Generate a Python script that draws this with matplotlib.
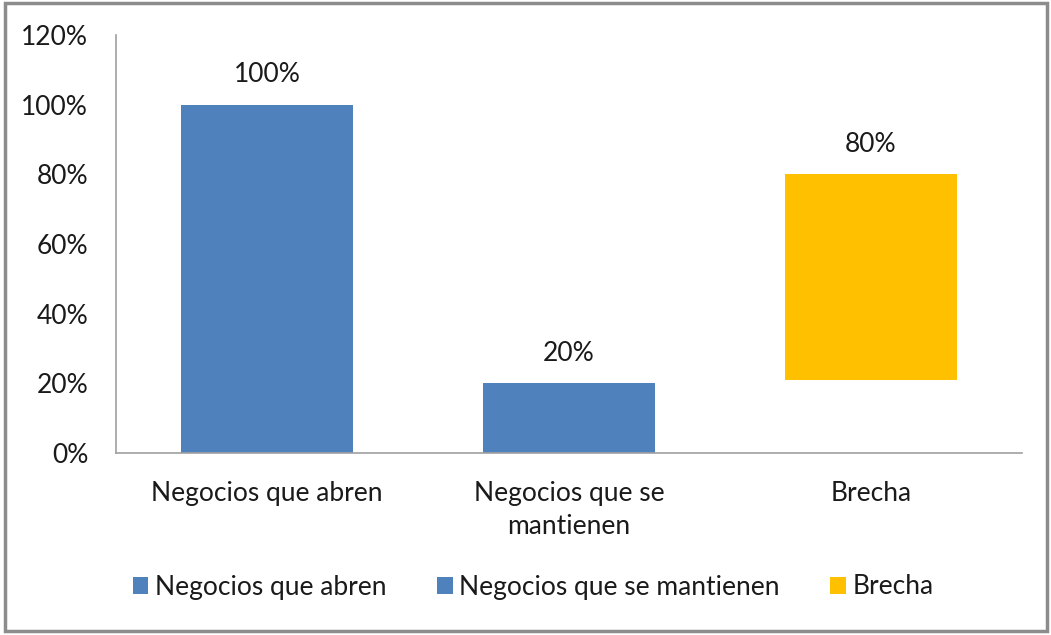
import matplotlib.pyplot as plt
from matplotlib.patches import Rectangle, Patch

plt.rcParams['font.family'] = ['Lato', 'DejaVu Sans']

categorias = ['Negocios que abren', 'Negocios que se\nmantienen', 'Brecha']
series = ['Negocios que abren', 'Negocios que se mantienen', 'Brecha']
base = [0.0, 0.0, 0.21]
tope = [1.00, 0.20, 0.80]
etiquetas = ['100%', '20%', '80%']
colores = ['#4f81bd', '#4f81bd', '#ffc000']
yticks = [0, 0.2, 0.4, 0.6, 0.8, 1.0, 1.2]
ylabels = ['0%', '20%', '40%', '60%', '80%', '100%', '120%']

fs = 19
fig = plt.figure(figsize=(10.51, 6.35), dpi=100)
ax = fig.add_axes([116/1051, 1 - 453/635, 906/1051, 418/635])

x = range(len(categorias))
alturas = [t - b for t, b in zip(tope, base)]
ax.bar(x, alturas, bottom=base, width=0.57, color=colores)
for i, (t, lab) in enumerate(zip(tope, etiquetas)):
    ax.text(i, t + 0.05, lab, ha='center', va='bottom', fontsize=fs, color='#1a1a1a')

ax.set_xlim(-0.5, 2.5)
ax.set_ylim(0, 1.2)
ax.set_yticks(yticks)
ax.set_yticklabels(ylabels, fontsize=fs, color='#1a1a1a')
ax.set_xticks(list(x))
ax.set_xticklabels(categorias, fontsize=fs, color='#1a1a1a', linespacing=1.4)
ax.tick_params(axis='both', length=0)
ax.tick_params(axis='y', pad=20)
ax.tick_params(axis='x', pad=20)
for s in ['top', 'right']:
    ax.spines[s].set_visible(False)
for s in ['left', 'bottom']:
    ax.spines[s].set_color('#a0a0a0')
    ax.spines[s].set_linewidth(1.2)

handles = [Patch(facecolor=c, edgecolor='none') for c in colores]
fig.legend(handles, series, loc='center', bbox_to_anchor=(533/1051, 1 - 587/635),
           ncol=3, frameon=False, fontsize=fs, handlelength=0.6, handleheight=0.6,
           handletextpad=0.25, columnspacing=1.9, labelcolor='#1a1a1a')

fig.patches.append(Rectangle((5/1051, 4/635), 1042/1051, 628/635, transform=fig.transFigure,
                             fill=False, edgecolor='#8c8c8c', linewidth=2.5))

fig.savefig('out.png', dpi=100)
